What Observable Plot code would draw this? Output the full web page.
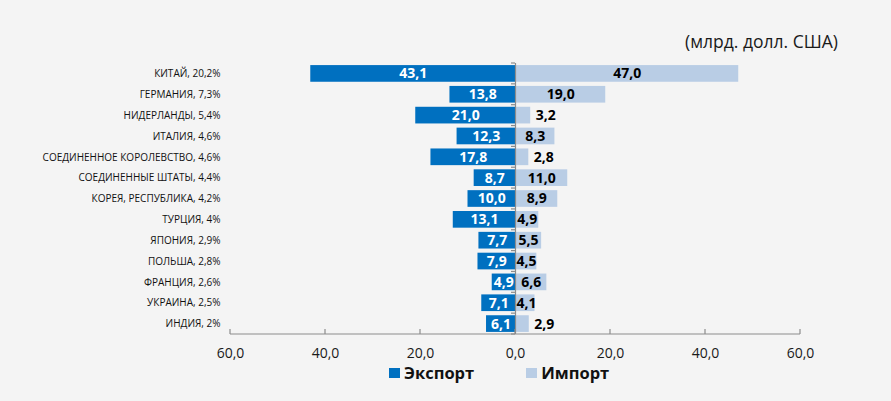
<!DOCTYPE html>
<html>
<head>
<meta charset="utf-8">
<script src="https://cdn.jsdelivr.net/npm/d3@7"></script>
<script src="https://cdn.jsdelivr.net/npm/@observablehq/plot@0.6"></script>
<style>
  html, body { margin: 0; padding: 0; background: #f4f4f4; }
  #wrap { position: relative; width: 891px; height: 401px; font-family: "Open Sans", sans-serif; }
  #title { position: absolute; left: 685px; top: 29px; font-size: 17.5px; color: #1a1a1a; white-space: nowrap; }
  #legend { position: absolute; left: 389px; top: 361px; font-size: 16.5px; font-weight: bold; color: #111; white-space: nowrap; display: flex; align-items: center; }
  #legend .sw { display: inline-block; width: 11px; height: 10px; margin-right: 4px; }
  #legend .item { display: flex; align-items: center; }
</style>
</head>
<body>
<div id="wrap">
  <div id="chart"></div>
  <div id="title">(млрд. долл. США)</div>
  <div id="legend">
    <span class="item"><span class="sw" style="background:#0070c0"></span>Экспорт</span>
    <span class="item" style="margin-left:52px"><span class="sw" style="background:#b9cde5"></span>Импорт</span>
  </div>
</div>
<script>
const countries = ["КИТАЙ", "ГЕРМАНИЯ", "НИДЕРЛАНДЫ", "ИТАЛИЯ", "СОЕДИНЕННОЕ КОРОЛЕВСТВО", "СОЕДИНЕННЫЕ ШТАТЫ", "КОРЕЯ, РЕСПУБЛИКА", "ТУРЦИЯ", "ЯПОНИЯ", "ПОЛЬША", "ФРАНЦИЯ", "УКРАИНА", "ИНДИЯ"];
const shares = [20.2, 7.3, 5.4, 4.6, 4.6, 4.4, 4.2, 4, 2.9, 2.8, 2.6, 2.5, 2];
const exportValues = [43.1, 13.8, 21.0, 12.3, 17.8, 8.7, 10.0, 13.1, 7.7, 7.9, 4.9, 7.1, 6.1];
const importValues = [47.0, 19.0, 3.2, 8.3, 2.8, 11.0, 8.9, 4.9, 5.5, 4.5, 6.6, 4.1, 2.9];
const xTicks = [-60, -40, -20, 0, 20, 40, 60];

const comma = v => String(v).replace(".", ",");
const fmt1 = v => Math.abs(v).toFixed(1).replace(".", ",");
const labels = countries.map((c, i) => `${c}, ${comma(shares[i])}%`);
const data = countries.map((c, i) => ({label: labels[i], exp: exportValues[i], imp: importValues[i]}));

const W = 891, H = 401, mL = 230, mR = 91, mT = 63, mB = 67;
const axisColor = "#8c8c8c";

const chart = Plot.plot({
  width: W, height: H,
  marginLeft: mL, marginRight: mR, marginTop: mT, marginBottom: mB,
  style: {background: "transparent", fontFamily: "Open Sans, sans-serif"},
  x: {domain: [-60, 60], ticks: xTicks},
  y: {domain: labels, paddingInner: 0.2, paddingOuter: 0.1, round: false},
  marks: [
    Plot.barX(data, {x1: 0, x2: d => -d.exp, y: "label", fill: "#0070c0"}),
    Plot.barX(data, {x1: 0, x2: "imp", y: "label", fill: "#b9cde5"}),
    Plot.ruleX([0], {stroke: axisColor, strokeWidth: 1.2}),
    Plot.text(data, {x: d => -d.exp / 2, y: "label", text: d => fmt1(d.exp), fill: "white", fontWeight: "bold", fontSize: 14}),
    Plot.text(data.filter(d => d.imp >= 4), {x: d => Math.max(d.imp / 2, 2.3), y: "label", text: d => fmt1(d.imp), fill: "#000", fontWeight: "bold", fontSize: 14}),
    Plot.text(data.filter(d => d.imp < 4), {x: "imp", y: "label", dx: 5, textAnchor: "start", text: d => fmt1(d.imp), fill: "#000", fontWeight: "bold", fontSize: 14}),
    Plot.axisY({tickSize: 0, tickPadding: 10, fontSize: 10, textAnchor: "end", fill: "#111", label: null}),
    Plot.axisX({ticks: xTicks, tickSize: 0, tickPadding: 14, fontSize: 14, tickFormat: fmt1, fill: "#1a1a1a", label: null})
  ]
});
document.getElementById("chart").appendChild(chart);

// axis lines and tick marks drawn from the plot's own scales
const sx = chart.scale("x"), sy = chart.scale("y");
const svg = d3.select(chart);
const yb = H - mB;
const g = svg.append("g").attr("stroke", axisColor).attr("stroke-width", 1.2).attr("fill", "none");
g.append("line").attr("x1", sx.apply(-60)).attr("x2", sx.apply(60)).attr("y1", yb).attr("y2", yb);
xTicks.forEach(t => {
  g.append("line").attr("x1", sx.apply(t)).attr("x2", sx.apply(t)).attr("y1", yb).attr("y2", yb - 5);
});
const step = sy.step;
const first = sy.apply(labels[0]) - (step - sy.bandwidth) / 2;
for (let i = 0; i <= labels.length; i++) {
  const y = first + i * step;
  g.append("line").attr("x1", sx.apply(0) - 4).attr("x2", sx.apply(0)).attr("y1", y).attr("y2", y);
}
</script>
</body>
</html>
